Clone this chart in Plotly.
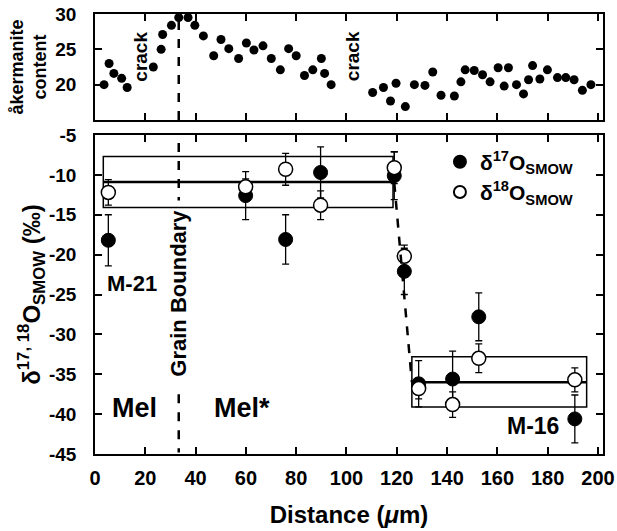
import plotly.graph_objects as go

# ---------------- data ----------------
# top panel: akermanite content vs distance
ak_x = [3.6, 5.6, 7.5, 10.6, 12.8, 23.2, 26.3, 26.9, 30.4, 33.3, 37.0, 39.7, 43.1, 47.2,
        50.1, 53.2, 57.1, 60.2, 63.2, 66.8, 70.1, 73.7, 77.0, 80.0, 83.3, 86.6, 90.0, 91.3,
        93.9, 110.4, 114.7, 117.5, 119.7, 123.4, 127.0, 131.2, 134.3, 137.6, 142.9, 145.5,
        147.2, 150.8, 154.1, 157.1, 160.3, 162.7, 164.4, 167.6, 170.4, 172.4, 174.0, 176.9,
        179.9, 183.9, 187.2, 190.5, 193.8, 197.2]
ak_y = [20.0, 23.0, 21.6, 20.9, 19.6, 22.5, 25.0, 27.1, 28.4, 29.5, 29.5, 28.4, 26.9, 24.1,
        26.4, 25.1, 23.7, 25.9, 24.9, 25.5, 23.7, 22.1, 25.1, 24.1, 21.3, 22.1, 23.7, 21.6,
        20.0, 18.9, 19.6, 17.7, 20.2, 16.9, 20.0, 19.9, 21.8, 18.5, 18.4, 20.4,
        22.1, 22.0, 21.4, 20.4, 22.4, 19.8, 22.4, 20.0, 18.7, 20.7, 22.7, 20.8,
        22.1, 21.0, 21.0, 20.7, 19.2, 20.0]

# bottom panel: oxygen isotopes
d17_x = [5.3, 59.9, 75.8, 89.7, 119.0, 123.0, 128.7, 142.2, 152.6, 190.8]
d17_y = [-18.2, -12.6, -18.1, -9.7, -10.1, -22.1, -36.2, -35.6, -27.8, -40.6]
d17_err = [3.2, 3.0, 3.1, 3.2, 3.0, 2.9, 2.9, 3.5, 3.0, 3.0]

d18_x = [5.3, 59.9, 75.8, 89.7, 119.0, 123.0, 128.7, 142.2, 152.6, 190.8]
d18_y = [-12.2, -11.5, -9.3, -13.8, -9.1, -20.2, -36.8, -38.8, -33.0, -35.7]
d18_err = [1.6, 1.0, 2.0, 1.8, 2.0, 1.4, 1.3, 1.6, 1.8, 1.5]

# mean value boxes (x0, x1, low, mean, high)
m21_box = [3.3, 118.5, -14.1, -10.9, -7.7]
m16_box = [126.0, 195.5, -39.1, -36.0, -32.8]
transition_line = [[119.0, 126.0], [-11.0, -36.0]]
grain_boundary_x = 33.3

x_ticks = [0, 20, 40, 60, 80, 100, 120, 140, 160, 180, 200]
y_ticks = [-45, -40, -35, -30, -25, -20, -15, -10, -5]
y_ticks_top = [20, 25, 30]

FONT = "Liberation Sans"

fig = go.Figure()

fig.add_trace(go.Scatter(
    x=ak_x, y=ak_y, mode="markers", xaxis="x2", yaxis="y2", showlegend=False,
    marker=dict(color="black", size=9)))

fig.add_trace(go.Scatter(
    x=d17_x, y=d17_y, mode="markers", name="δ<sup>17</sup>O<sub>SMOW</sub>",
    marker=dict(color="black", size=14, line=dict(color="black", width=1)),
    error_y=dict(type="data", array=d17_err, color="black", thickness=1.3, width=3.5)))

fig.add_trace(go.Scatter(
    x=d18_x, y=d18_y, mode="markers", name="δ<sup>18</sup>O<sub>SMOW</sub>",
    marker=dict(color="white", size=14, line=dict(color="black", width=1.5)),
    error_y=dict(type="data", array=d18_err, color="black", thickness=1.3, width=3.5)))

shapes = []
for b in (m21_box, m16_box):
    shapes.append(dict(type="rect", xref="x", yref="y", x0=b[0], x1=b[1], y0=b[2], y1=b[4],
                       line=dict(color="black", width=1.5), layer="below"))
    shapes.append(dict(type="line", xref="x", yref="y", x0=b[0], x1=b[1], y0=b[3], y1=b[3],
                       line=dict(color="black", width=2.5), layer="below"))
shapes.append(dict(type="line", xref="x", yref="y",
                   x0=transition_line[0][0], x1=transition_line[0][1],
                   y0=transition_line[1][0], y1=transition_line[1][1],
                   line=dict(color="black", width=2.5, dash="dash")))
# grain boundary dashed lines
shapes.append(dict(type="line", xref="x2", yref="y2", x0=grain_boundary_x, x1=grain_boundary_x,
                   y0=15, y1=30, line=dict(color="black", width=2.5, dash="dash")))
shapes.append(dict(type="line", xref="x", yref="y", x0=grain_boundary_x, x1=grain_boundary_x,
                   y0=-6.0, y1=-13.2, line=dict(color="black", width=2.5, dash="dash")))
shapes.append(dict(type="line", xref="x", yref="y", x0=grain_boundary_x, x1=grain_boundary_x,
                   y0=-37.5, y1=-44.8, line=dict(color="black", width=2.5, dash="dash")))

bold = lambda s: dict(family=FONT, size=s, color="black", weight="bold")

annotations = [
    dict(text="crack", x=18, y=24, xref="x2", yref="y2", textangle=-90, showarrow=False, font=bold(19)),
    dict(text="crack", x=102.5, y=24, xref="x2", yref="y2", textangle=-90, showarrow=False, font=bold(19)),
    dict(text="Grain Boundary", x=grain_boundary_x, y=-24.8, xref="x", yref="y", textangle=-90,
         showarrow=False, font=bold(22)),
    dict(text="M-21", x=14.7, y=-23.6, xref="x", yref="y", showarrow=False, font=bold(22)),
    dict(text="Mel", x=15.9, y=-39.2, xref="x", yref="y", showarrow=False, font=bold(27)),
    dict(text="Mel*", x=58.5, y=-39.2, xref="x", yref="y", showarrow=False, font=bold(27)),
    dict(text="M-16", x=174.2, y=-41.5, xref="x", yref="y", showarrow=False, font=bold(23)),
]

axis_common = dict(showline=True, linecolor="black", linewidth=1.5, mirror="ticks",
                   ticks="inside", ticklen=7, tickwidth=1.5, tickcolor="black",
                   showgrid=False, zeroline=False, automargin=False)

fig.update_layout(
    width=617, height=531,
    margin=dict(l=95, r=14, t=14, b=77),
    paper_bgcolor="white", plot_bgcolor="white",
    font=dict(family=FONT, color="black"),
    xaxis=dict(domain=[0, 1], range=[0, 202], tickvals=x_ticks, ticktext=[str(v) for v in x_ticks],
               tickfont=bold(20), ticklabelstandoff=5,
               title=dict(text="Distance (<i>μ</i>m)", font=bold(24), standoff=18),
               anchor="y", **axis_common),
    yaxis=dict(domain=[0, 0.725], range=[-45, -5], tickvals=y_ticks,
               ticktext=[str(v) for v in y_ticks], tickfont=bold(19), ticklabelstandoff=13,
               title=dict(text="δ<sup>17, 18</sup>O<sub>SMOW</sub> (‰)", font=bold(24), standoff=2),
               anchor="x", **axis_common),
    xaxis2=dict(domain=[0, 1], range=[0, 202], matches="x", tickvals=x_ticks,
                showticklabels=False, anchor="y2", **axis_common),
    yaxis2=dict(domain=[0.759, 1], range=[15, 30], tickvals=y_ticks_top,
                ticktext=[str(v) for v in y_ticks_top], tickfont=bold(19), ticklabelstandoff=13,
                title=dict(text="åkermanite<br>content", font=bold(18), standoff=4),
                anchor="x2", **axis_common),
    legend=dict(x=0.679, y=0.71, xanchor="left", yanchor="top", bgcolor="rgba(0,0,0,0)",
                font=dict(family=FONT, size=21, color="black", weight="bold"),
                itemsizing="constant", tracegroupgap=0),
    shapes=shapes,
    annotations=annotations,
)

fig.write_html("out.html", config={"displayModeBar": False},
               post_script="document.body.style.margin='0px';")
